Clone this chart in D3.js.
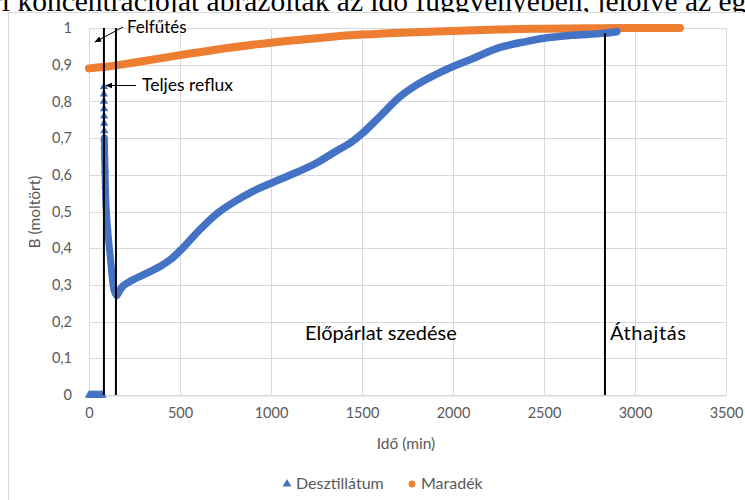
<!DOCTYPE html>
<html>
<head>
<meta charset="utf-8">
<script src="https://cdn.jsdelivr.net/npm/d3@7"></script>
<style>
  html, body { margin: 0; padding: 0; background: #fff; }
  svg { display: block; }
</style>
</head>
<body>
<svg id="chart" width="745" height="500"></svg>
<script>
// ---- data ----
const xTicks = [0, 500, 1000, 1500, 2000, 2500, 3000, 3500];
const yTicks = [0, 0.1, 0.2, 0.3, 0.4, 0.5, 0.6, 0.7, 0.8, 0.9, 1];

// Desztillátum: zero phase (heating)
const destZeroT = [0, 5, 10, 15, 20, 25, 30, 35, 40, 45, 50, 55, 60, 65, 70, 75];
const destZeroV = [0, 0, 0, 0, 0, 0, 0, 0, 0, 0, 0, 0, 0, 0, 0, 0];
// Desztillátum: spike (total reflux) down to the minimum
const spikeT = [82, 82, 82, 83, 83, 83, 84, 84, 85, 86, 88, 90, 93, 98, 103, 109, 115, 120, 125, 131, 137, 145, 152];
const spikeV = [0.84, 0.82, 0.80, 0.78, 0.76, 0.74, 0.72, 0.70, 0.68, 0.65, 0.613, 0.57, 0.523, 0.48, 0.45, 0.415, 0.387, 0.36, 0.332, 0.305, 0.286, 0.276, 0.272];
// Desztillátum: take-off of the fore-run and main cut
const destT = [152, 160, 170, 185, 207, 250, 298, 335, 390, 450, 500, 600, 700, 800, 900, 1000, 1100, 1250, 1350, 1450, 1500, 1600, 1709, 1800, 1900, 2000, 2100, 2258, 2400, 2500, 2650, 2835, 2900];
const destV = [0.272, 0.277, 0.286, 0.296, 0.304, 0.316, 0.327, 0.336, 0.35, 0.37, 0.393, 0.446, 0.493, 0.527, 0.555, 0.577, 0.598, 0.632, 0.662, 0.692, 0.712, 0.76, 0.813, 0.845, 0.872, 0.895, 0.915, 0.947, 0.963, 0.972, 0.98, 0.986, 0.99];
// Maradék
const resT = [0, 100, 250, 500, 750, 1000, 1250, 1435, 1500, 1750, 2000, 2250, 2500, 2750, 3000, 3247];
const resV = [0.89, 0.895, 0.906, 0.926, 0.945, 0.96, 0.972, 0.98, 0.982, 0.988, 0.992, 0.996, 0.998, 0.999, 1.0, 1.0];

// phase boundary lines
const phaseT = [82, 148, 2835];
const phaseTop = [1, 1, 0.986];

const seriesNames = ["Desztillátum", "Maradék"];
const colors = ["#4472C4", "#ED7D31"];

// ---- drawing ----
const svg = d3.select("#chart");
const x = d3.scaleLinear().domain([0, 3500]).range([89, 726]);
const y = d3.scaleLinear().domain([0, 1]).range([395, 28]);
const font = "Lato, 'Open Sans', sans-serif";
const grey = "#595959";

// top cut-off paragraph text
svg.append("text")
  .attr("x", -8).attr("y", 11)
  .attr("font-family", "'Liberation Serif', 'Times New Roman', serif")
  .attr("font-size", 29.5)
  .attr("fill", "#000")
  .text("ri koncentrációját ábrázolták az idő függvényében, jelölve az egyes");

// chart frame
svg.append("rect")
  .attr("x", 8.5).attr("y", 12.5).attr("width", 800).attr("height", 600)
  .attr("fill", "#fff").attr("stroke", "#d9d9d9").attr("stroke-width", 1);

// gridlines
const grid = svg.append("g");
grid.selectAll("line.h").data(yTicks).join("line")
  .attr("x1", x(0)).attr("x2", x(3500))
  .attr("y1", d => Math.round(y(d)) + 0.5).attr("y2", d => Math.round(y(d)) + 0.5)
  .attr("stroke", "#d9d9d9").attr("stroke-width", 1);
grid.selectAll("line.v").data(xTicks).join("line")
  .attr("x1", d => Math.round(x(d)) + 0.5).attr("x2", d => Math.round(x(d)) + 0.5)
  .attr("y1", y(0)).attr("y2", y(1))
  .attr("stroke", "#d9d9d9").attr("stroke-width", 1);

// axes
const fmt = d => d3.format("~g")(d).replace(".", ",");
const xAxis = svg.append("g").attr("transform", `translate(0,${Math.round(y(0)) + 0.5})`)
  .call(d3.axisBottom(x).tickValues(xTicks).tickSize(0).tickPadding(12).tickFormat(d3.format("d")));
const yAxis = svg.append("g").attr("transform", `translate(${x(0)},0)`)
  .call(d3.axisLeft(y).tickValues(yTicks).tickSize(0).tickPadding(17).tickFormat(fmt));
[xAxis, yAxis].forEach(a => {
  a.select(".domain").attr("stroke", "#d9d9d9");
  a.selectAll("text").attr("font-family", font).attr("font-size", 14.5).attr("fill", grey);
});
yAxis.select(".domain").remove();

// axis titles
svg.append("text").attr("x", 406).attr("y", 449).attr("text-anchor", "middle")
  .attr("font-family", font).attr("font-size", 15.5).attr("fill", grey).text("Idő (min)");
svg.append("text").attr("transform", "translate(40,212) rotate(-90)").attr("text-anchor", "middle")
  .attr("font-family", font).attr("font-size", 15.5).attr("fill", grey).text("B (moltört)");

// Maradék series
const resData = resT.map((t, i) => [t, resV[i]]);
svg.append("path")
  .attr("d", d3.line().x(d => x(d[0])).y(d => y(d[1])).curve(d3.curveMonotoneX)(resData))
  .attr("fill", "none").attr("stroke", colors[1]).attr("stroke-width", 8).attr("stroke-linecap", "round");

// Desztillátum series
const tri = d3.symbol().type(d3.symbolTriangle).size(30);
const zeroData = destZeroT.map((t, i) => [t, destZeroV[i]]);
svg.append("path")
  .attr("d", d3.line().x(d => x(d[0])).y(d => y(d[1]))(zeroData))
  .attr("fill", "none").attr("stroke", colors[0]).attr("stroke-width", 5);
svg.selectAll("path.z").data(zeroData).join("path")
  .attr("transform", d => `translate(${x(d[0])},${y(d[1])})`)
  .attr("d", tri).attr("fill", colors[0]);

const spikeData = spikeT.map((t, i) => [t, spikeV[i]]);
svg.append("path")
  .attr("d", d3.line().x(d => x(d[0])).y(d => y(d[1])).curve(d3.curveCatmullRom.alpha(0.5))(spikeData.slice(7)))
  .attr("fill", "none").attr("stroke", colors[0]).attr("stroke-width", 7).attr("stroke-linecap", "round");
svg.selectAll("path.s").data(spikeData.slice(0, 12)).join("path")
  .attr("transform", d => `translate(${x(d[0])},${y(d[1])})`)
  .attr("d", tri).attr("fill", colors[0]);

const destData = destT.map((t, i) => [t, destV[i]]);
svg.append("path")
  .attr("d", d3.line().x(d => x(d[0])).y(d => y(d[1])).curve(d3.curveMonotoneX)(destData))
  .attr("fill", "none").attr("stroke", colors[0]).attr("stroke-width", 7.5).attr("stroke-linecap", "round");

// phase lines
svg.selectAll("line.phase").data(phaseT).join("line")
  .attr("x1", d => x(d)).attr("x2", d => x(d))
  .attr("y1", y(0)).attr("y2", (d, i) => y(phaseTop[i]))
  .attr("stroke", "#000").attr("stroke-width", 2);

// annotations
const defs = svg.append("defs");
defs.append("marker").attr("id", "arr").attr("viewBox", "0 0 10 10")
  .attr("refX", 9).attr("refY", 5).attr("markerWidth", 7).attr("markerHeight", 7)
  .attr("orient", "auto-start-reverse")
  .append("path").attr("d", "M0,1 L10,5 L0,9 Z").attr("fill", "#000");

svg.append("line").attr("x1", 123).attr("y1", 27).attr("x2", 95).attr("y2", 42)
  .attr("stroke", "#000").attr("stroke-width", 1).attr("marker-end", "url(#arr)");
svg.append("line").attr("x1", 136).attr("y1", 85.5).attr("x2", 106).attr("y2", 85.5)
  .attr("stroke", "#000").attr("stroke-width", 1).attr("marker-end", "url(#arr)");

svg.append("text").attr("x", 127).attr("y", 33).attr("font-family", font).attr("font-size", 17)
  .attr("fill", "#000").text("Felfűtés");
svg.append("text").attr("x", 142).attr("y", 91).attr("font-family", font).attr("font-size", 17.5)
  .attr("fill", "#000").text("Teljes reflux");
svg.append("text").attr("x", 305).attr("y", 340).attr("font-family", font).attr("font-size", 20)
  .attr("fill", "#000").text("Előpárlat szedése");
svg.append("text").attr("x", 610).attr("y", 340).attr("font-family", font).attr("font-size", 20)
  .attr("fill", "#000").attr("letter-spacing", 0.6).text("Áthajtás");

// legend
const lg = svg.append("g").attr("font-family", font).attr("font-size", 16).attr("fill", grey);
lg.append("path").attr("transform", "translate(287,484)")
  .attr("d", d3.symbol().type(d3.symbolTriangle).size(34)).attr("fill", colors[0]);
lg.append("text").attr("x", 296).attr("y", 489).text(seriesNames[0]);
lg.append("circle").attr("cx", 412).attr("cy", 484).attr("r", 3.4).attr("fill", colors[1]);
lg.append("text").attr("x", 421).attr("y", 489).text(seriesNames[1]);
</script>
</body>
</html>
